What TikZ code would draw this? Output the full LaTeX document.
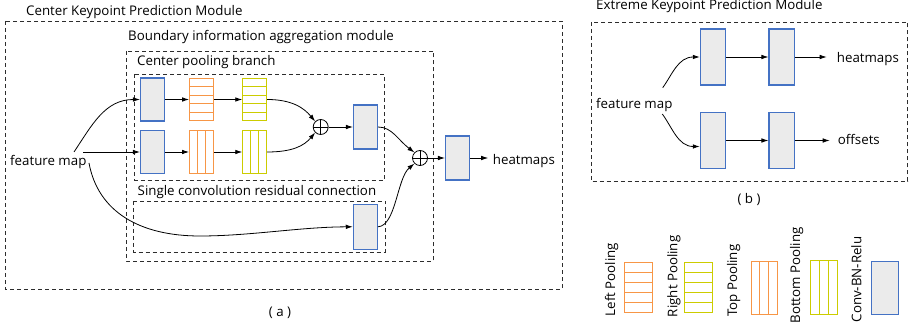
\documentclass[tikz,border=0pt]{standalone}
\usepackage{fontspec}
\setmainfont{Open Sans}
\usetikzlibrary{arrows.meta,calc}

\definecolor{convblue}{RGB}{68,114,196}
\definecolor{convfill}{RGB}{235,235,235}
\definecolor{poolorange}{RGB}{247,150,70}
\definecolor{poolyellow}{RGB}{204,204,0}
\definecolor{dashgray}{RGB}{45,45,45}

\tikzset{
  conv/.style={draw=convblue, fill=convfill, line width=1.1pt, inner sep=0pt,
    minimum width=24pt, minimum height=43pt},
  rowpool/.style={draw=#1, line width=0.9pt, inner sep=0pt,
    minimum width=24pt, minimum height=42pt,
    path picture={\foreach \k in {1,2,3,4}{
      \draw[#1, line width=0.9pt]
        ($(path picture bounding box.north west)!\k/5!(path picture bounding box.south west)$) --
        ($(path picture bounding box.north east)!\k/5!(path picture bounding box.south east)$);}}},
  colpool/.style={draw=#1, line width=0.9pt, inner sep=0pt,
    minimum width=24pt, minimum height=43pt,
    path picture={\foreach \k in {1,2}{
      \draw[#1, line width=0.9pt]
        ($(path picture bounding box.north west)!\k/3!(path picture bounding box.north east)$) --
        ($(path picture bounding box.south west)!\k/3!(path picture bounding box.south east)$);}}},
  oplus/.style={circle, draw, line width=0.8pt, minimum size=15pt, inner sep=0pt,
    path picture={\draw[line width=0.8pt]
      (path picture bounding box.north) -- (path picture bounding box.south)
      (path picture bounding box.west) -- (path picture bounding box.east);}},
  arr/.style={-{Latex[length=7pt,width=4.6pt]}, line width=0.8pt},
  dbox/.style={draw=dashgray, line width=0.8pt, dash pattern=on 4pt off 3pt},
  lbl/.style={inner sep=0pt, anchor=base west},
  legend/.style={inner sep=0pt, rotate=90, anchor=center}
}

\begin{document}
\begin{tikzpicture}[x=1pt, y=-1pt, font=\fontsize{13.3}{15}\selectfont]
\useasboundingbox (0,0) rectangle (910,328);

% ---------- (a) Center keypoint prediction module ----------
\draw[dbox] (5,21) rectangle (562,289);
\draw[dbox] (126,51) rectangle (433.5,261);
\draw[dbox] (134,74.5) rectangle (384.5,180);
\draw[dbox] (133.5,201) rectangle (385,252);

\node[lbl] (tA)   at (26,15.7)   {Center Keypoint Prediction Module};
\node[lbl] (tBnd) at (128,40.7)  {Boundary information aggregation module};
\node[lbl] (tCp)  at (137,66)    {Center pooling branch};
\node[lbl] (tRes) at (137.5,196) {Single convolution residual connection};

\node[lbl] (fmA) at (10,166) {feature map};
\coordinate (fmUp)  at (74,152);
\coordinate (fmMid) at (83,152);
\coordinate (fmLow) at (89,163);

\node[conv] (b1) at (152.5,99.5) {};
\node[conv] (b2) at (152.5,152) {};
\node[rowpool=poolorange] (lp) at (201.5,99.5) {};
\node[rowpool=poolyellow] (rp) at (254.7,99.5) {};
\node[colpool=poolorange] (tp) at (201.5,152) {};
\node[colpool=poolyellow] (bp) at (254.7,152) {};
\node[oplus] (p1) at (320.7,127) {};
\node[conv, minimum height=44pt] (b3) at (365.5,127) {};
\node[conv, minimum height=45pt] (b4) at (365.3,226.8) {};
\node[oplus] (p2) at (420,158) {};
\node[conv, minimum height=44pt] (b5) at (457.5,158) {};
\node[lbl] (hmA) at (492.7,165) {heatmaps};

\draw[arr] (fmUp) .. controls (92,125) and (105,99.5) .. (b1.west);
\draw[arr] (fmMid) -- (b2.west);
\draw[arr] (b1) -- (lp);
\draw[arr] (lp) -- (rp);
\draw[arr] (b2) -- (tp);
\draw[arr] (tp) -- (bp);
\draw[arr] (rp.east) .. controls (292,99.5) and (304,108) .. (p1.north west);
\draw[arr] (bp.east) .. controls (292,152) and (304,146) .. (p1.south west);
\draw[arr] (p1) -- (b3);
\draw[arr] (b3.east) .. controls (392,127) and (398,140) .. (p2.north west);
\draw[arr] (fmLow) .. controls (98,212) and (140,236) .. (200,236)
                   .. controls (250,236) and (300,227) .. (b4.west);
\draw[arr] (b4.east) .. controls (396,226) and (397,178) .. (p2.south west);
\draw[arr] (p2) -- (b5);
\draw[arr] (b5.east) -- ($(b5.east -| hmA.west)+(-4.5,0)$);

\node (capA) at (280,313) {( a )};

% ---------- (b) Extreme keypoint prediction module ----------
\draw[dbox] (591,22) rectangle (907.5,181.5);
\node[lbl] (tB) at (596,10) {Extreme Keypoint Prediction Module};

\node[lbl] (fmB) at (596,108.3) {feature map};
\coordinate (fmBUp)  at (662.7,87.7);
\coordinate (fmBLow) at (662.3,114);

\node[conv, minimum width=25.4pt, minimum height=56pt] (e1) at (713,57) {};
\node[conv, minimum width=25.4pt, minimum height=56pt] (e2) at (781.7,57) {};
\node[conv, minimum width=25.4pt, minimum height=56pt] (e3) at (713,140.5) {};
\node[conv, minimum width=25.4pt, minimum height=56pt] (e4) at (781.7,140.5) {};
\node[lbl] (hmB)  at (836.7,62.7) {heatmaps};
\node[lbl] (offB) at (837.7,145)  {offsets};

\draw[arr] (fmBUp) .. controls (672,75) and (678,57) .. (e1.west);
\draw[arr] (fmBLow) .. controls (672,127) and (678,146.5) .. ($(e3.west)+(0,6)$);
\draw[arr] (e1) -- (e2);
\draw[arr] (e3) -- (e4);
\draw[arr] (e2.east) -- ($(e2.east -| hmB.west)+(-10,0)$);
\draw[arr] (e4.east) -- ($(e4.east -| offB.west)+(-8,0)$);

\node (capB) at (749,200) {( b )};

% ---------- legend ----------
\node[legend] (lgL) at (611.7,279.7) {Left Pooling};
\node[rowpool=poolorange, minimum width=27.7pt, minimum height=50.4pt] (kL) at (638.2,287.5) {};
\node[legend] (lgR) at (674,276.3) {Right Pooling};
\node[rowpool=poolyellow, minimum width=27.7pt, minimum height=50.4pt] (kR) at (698.2,287.5) {};
\node[legend] (lgT) at (733.7,280.7) {Top Pooling};
\node[colpool=poolorange, minimum width=26.7pt, minimum height=53pt] (kT) at (764.3,287.8) {};
\node[legend] (lgB) at (796.7,275.3) {Bottom Pooling};
\node[colpool=poolyellow, minimum width=27.4pt, minimum height=53.6pt] (kB) at (824,287.5) {};
\node[legend] (lgC) at (856.3,279.5) {Conv-BN-Relu};
\node[conv, minimum width=27pt, minimum height=53pt] (kC) at (885.2,287.8) {};
\end{tikzpicture}
\end{document}
